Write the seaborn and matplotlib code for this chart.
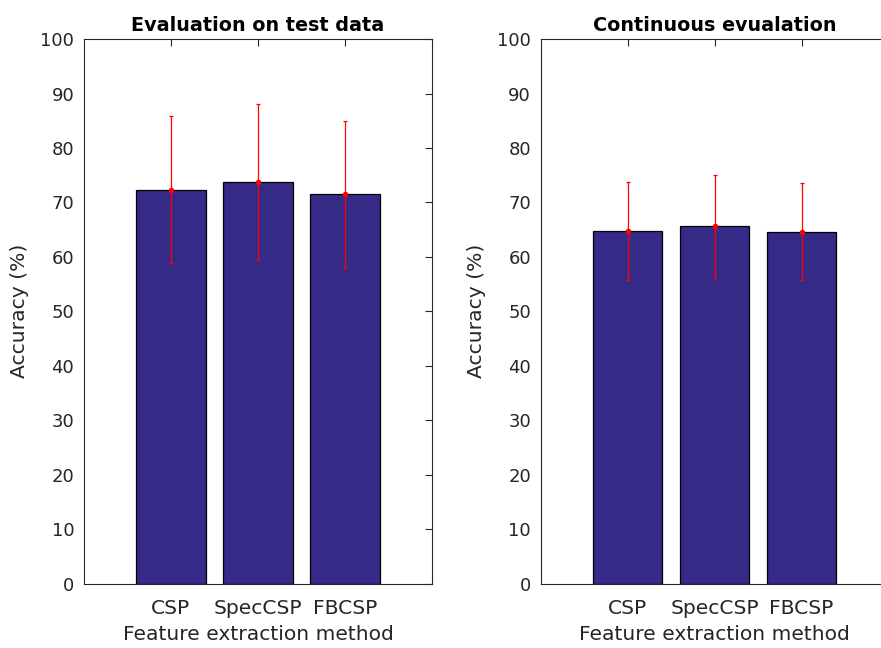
import matplotlib
matplotlib.use("Agg")
import matplotlib.pyplot as plt
import seaborn as sns
import pandas as pd

methods = ["CSP", "SpecCSP", "FBCSP"]
test_acc = [72.3, 73.8, 71.5]
test_err = [13.5, 14.3, 13.5]
cont_acc = [64.8, 65.6, 64.6]
cont_err = [8.95, 9.45, 8.9]
titles = ["Evaluation on test data", "Continuous evualation"]
xlabel = "Feature extraction method"
ylabel = "Accuracy (%)"
yticks = list(range(0, 101, 10))

sns.set_theme(style="white")
plt.rcParams["font.family"] = ["DejaVu Sans"]

fig = plt.figure(figsize=(8.81, 6.48), dpi=100)
axes = [fig.add_axes([0.0953, 0.0995, 0.395, 0.840]),
        fig.add_axes([0.6137, 0.0995, 0.395, 0.840])]

bar_color = "#352A87"
axis_color = "#262626"

for ax, acc, err, title in zip(axes, [test_acc, cont_acc], [test_err, cont_err], titles):
    df = pd.DataFrame({"method": methods, "acc": acc})
    sns.barplot(data=df, x="method", y="acc", order=methods, color=bar_color,
                saturation=1, width=0.8, edgecolor="black", linewidth=0.9,
                errorbar=None, ax=ax)
    ax.errorbar(range(len(methods)), acc, yerr=err, fmt="o", color="red",
                markersize=3, elinewidth=0.9, capsize=1.5, capthick=0.9, zorder=5)
    ax.set_xlim(-1, 3)
    ax.set_ylim(0, 100)
    ax.set_yticks(yticks)
    ax.set_title(title, fontsize=13.8, fontweight="bold", pad=6, color="black")
    ax.set_xlabel(xlabel, fontsize=14.6, color=axis_color, labelpad=5)
    ax.set_ylabel(ylabel, fontsize=14.6, color=axis_color, labelpad=8)
    ax.tick_params(axis="both", direction="in", length=5, width=0.8,
                   labelsize=13, colors=axis_color, top=True, right=True, pad=7)
    ax.tick_params(axis="x", pad=11, labelsize=14.6)
    for s in ax.spines.values():
        s.set_visible(True)
        s.set_color(axis_color)
        s.set_linewidth(0.8)

fig.savefig("out.png", dpi=100, facecolor="white")
